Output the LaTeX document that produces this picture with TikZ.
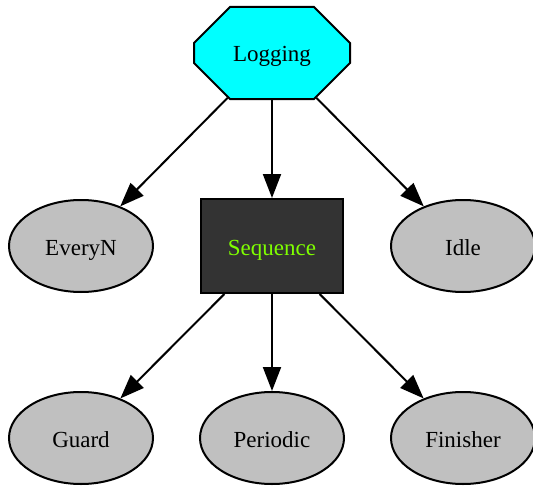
\documentclass[tikz,border=0pt]{standalone}
\usepackage{fontspec}
\setmainfont{Liberation Serif}
\usetikzlibrary{shapes.misc,shapes.geometric,arrows.meta}
\definecolor{lgray}{HTML}{C0C0C0}
\definecolor{dbox}{HTML}{333333}
\definecolor{chart}{HTML}{7FFF00}
\definecolor{aqua}{HTML}{00FFFF}
\begin{document}
\begin{tikzpicture}[x=1pt,y=-1pt,
  lbl/.style={font=\fontsize{23}{26}\selectfont, text height=18pt, text depth=0pt},
  leaf/.style={ellipse, draw=black, fill=lgray, line width=2pt, minimum width=144pt, minimum height=92pt, inner sep=0pt, lbl},
  edge/.style={line width=2pt, -{Triangle[length=24pt,width=18pt]}}]
\useasboundingbox (0,0) rectangle (533,487);
\node[chamfered rectangle, chamfered rectangle xsep=46pt, chamfered rectangle ysep=27pt,
      draw=black, fill=aqua, line width=2pt, minimum width=156pt, minimum height=92pt, inner sep=0pt, lbl] (log) at (272,53) {Logging};
\node[rectangle, draw=black, fill=dbox, line width=2pt, minimum width=142pt, minimum height=94pt, inner sep=0pt, lbl, text=chart] (seq) at (272,246) {Sequence};
\node[leaf] (every) at (81,246) {EveryN};
\node[leaf] (idle) at (463,246) {Idle};
\node[leaf] (guard) at (81,438) {Guard};
\node[leaf] (per) at (272,438) {Periodic};
\node[leaf] (fin) at (463,438) {Finisher};
\draw[edge] (log) -- (every);
\draw[edge] (log) -- (seq);
\draw[edge] (log) -- (idle);
\draw[edge] (seq) -- (guard);
\draw[edge] (seq) -- (per);
\draw[edge] (seq) -- (fin);
\end{tikzpicture}
\end{document}
